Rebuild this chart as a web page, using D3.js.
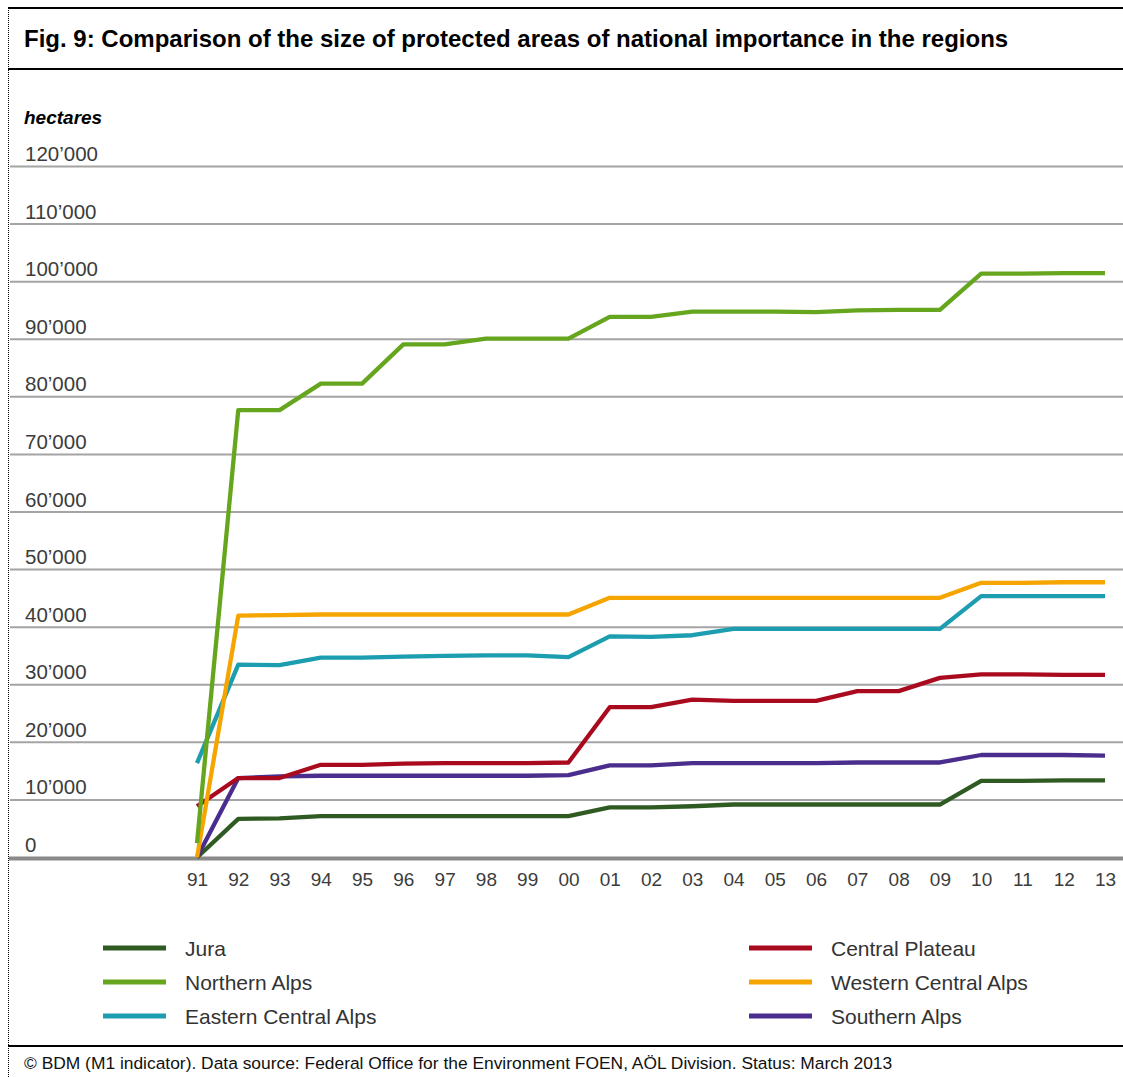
<!DOCTYPE html>
<html><head><meta charset="utf-8">
<script src="https://cdn.jsdelivr.net/npm/d3@7"></script>
<style>
html,body{margin:0;padding:0;background:#fff;}
svg{display:block;font-family:"Liberation Sans",Arial,sans-serif;}
</style></head>
<body><svg id="c" width="1123" height="1077"></svg>
<script>
const years = ["91","92","93","94","95","96","97","98","99","00","01","02","03","04","05","06","07","08","09","10","11","12","13"];
const yTicks = [0,10000,20000,30000,40000,50000,60000,70000,80000,90000,100000,110000,120000];
const tickLabels = ["0","10’000","20’000","30’000","40’000","50’000","60’000","70’000","80’000","90’000","100’000","110’000","120’000"];
const seriesNames = ["Jura","Northern Alps","Eastern Central Alps","Central Plateau","Western Central Alps","Southern Alps"];
const seriesColors = ["#2f5a22","#66a61e","#1c9db0","#aa0a1e","#f6a500","#4a2d8c"];
const jura      = [0,6700,6800,7200,7200,7200,7200,7200,7200,7200,8700,8700,8900,9200,9200,9200,9200,9200,9200,13300,13300,13400,13400];
const northern  = [2500,77700,77700,82300,82300,89100,89100,90100,90100,90100,93900,93900,94800,94800,94800,94700,95000,95100,95100,101400,101400,101500,101500];
const eastern   = [16400,33500,33400,34700,34700,34900,35000,35100,35100,34800,38400,38300,38600,39700,39700,39700,39700,39700,39700,45400,45400,45400,45400];
const plateau   = [8900,13800,13800,16100,16100,16300,16400,16400,16400,16500,26100,26100,27400,27200,27200,27200,28900,28900,31200,31800,31800,31700,31700];
const western   = [0,42000,42100,42200,42200,42200,42200,42200,42200,42200,45100,45100,45100,45100,45100,45100,45100,45100,45100,47700,47700,47800,47800];
const southern  = [0,13800,14100,14200,14200,14200,14200,14200,14200,14300,16000,16000,16400,16400,16400,16400,16500,16500,16500,17800,17800,17800,17700];
const seriesValues = [jura,northern,eastern,plateau,western,southern];
const drawOrder = [0,5,3,2,4,1];

const svg = d3.select("#c");
const W = 1123, H = 1077;

// frame
svg.append("line").attr("x1",8).attr("x2",W).attr("y1",8).attr("y2",8).attr("stroke","#000").attr("stroke-width",2);
svg.append("line").attr("x1",8).attr("x2",W).attr("y1",69).attr("y2",69).attr("stroke","#000").attr("stroke-width",2);
svg.append("line").attr("x1",8).attr("x2",W).attr("y1",1046).attr("y2",1046).attr("stroke","#000").attr("stroke-width",2);
svg.append("line").attr("x1",8.5).attr("x2",8.5).attr("y1",8).attr("y2",H).attr("stroke","#000").attr("stroke-width",1).attr("stroke-dasharray","1,1");

svg.append("text").attr("x",24).attr("y",47).attr("font-size",24).attr("font-weight","bold").attr("fill","#000")
  .text("Fig. 9: Comparison of the size of protected areas of national importance in the regions");
svg.append("text").attr("x",24).attr("y",124).attr("font-size",19).attr("font-weight","bold").attr("font-style","italic").attr("fill","#000")
  .text("hectares");
svg.append("text").attr("x",24).attr("y",1069).attr("font-size",17.4).attr("fill","#111")
  .text("© BDM (M1 indicator). Data source: Federal Office for the Environment FOEN, AÖL Division. Status: March 2013");

const x = d3.scalePoint().domain(years).range([197, 1105]);
const y = d3.scaleLinear().domain([0,120000]).range([857.5,166.5]);

// gridlines
const grid = svg.append("g");
grid.selectAll("line").data(yTicks.filter(d=>d>0)).join("line")
  .attr("x1",10).attr("x2",W).attr("y1",d=>y(d)).attr("y2",d=>y(d))
  .attr("stroke","#a4a4a4").attr("stroke-width",2);
grid.selectAll("text").data(yTicks).join("text")
  .attr("x",25).attr("y",d=>y(d)-5.5).attr("font-size",20.5).attr("fill","#3c3c3c")
  .text((d,i)=>tickLabels[i]);
svg.append("line").attr("x1",9).attr("x2",W).attr("y1",y(0)+1).attr("y2",y(0)+1).attr("stroke","#8a8a8a").attr("stroke-width",4);

// x axis labels via d3 axis
const xAxis = svg.append("g").attr("transform",`translate(0,${y(0)+3})`)
  .call(d3.axisBottom(x).tickSize(0).tickPadding(12));
xAxis.select(".domain").remove();
xAxis.selectAll("text").attr("font-size",19).attr("fill","#3c3c3c").attr("font-family","Liberation Sans, Arial, sans-serif");

// lines
const line = d3.line().x((d,i)=>x(years[i])).y(d=>y(d));
drawOrder.forEach(k=>{
  svg.append("path").datum(seriesValues[k]).attr("d",line)
    .attr("fill","none").attr("stroke",seriesColors[k]).attr("stroke-width",4.3)
    .attr("stroke-linejoin","round");
});

// legend
const legPos = [[103,948],[103,982],[103,1016],[749,948],[749,982],[749,1016]];
seriesNames.forEach((n,i)=>{
  const [lx,ly] = legPos[i];
  svg.append("line").attr("x1",lx).attr("x2",lx+63).attr("y1",ly).attr("y2",ly)
    .attr("stroke",seriesColors[i]).attr("stroke-width",5);
  svg.append("text").attr("x",lx+82).attr("y",ly+7.5).attr("font-size",21).attr("fill","#333").text(n);
});
</script></body></html>
